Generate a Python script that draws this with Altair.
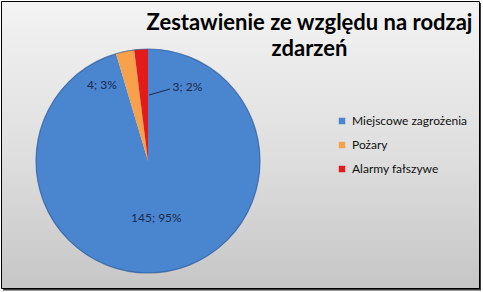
import altair as alt
import pandas as pd

categories = ["Miejscowe zagrożenia", "Pożary", "Alarmy fałszywe"]
values = [145, 4, 3]
colors = ["#4A85D0", "#F7A24A", "#E41B1B"]
title_lines = ["Zestawienie ze względu na rodzaj", "zdarzeń"]

df = pd.DataFrame({
    "kategoria": categories,
    "wartosc": values,
    "kolejnosc": list(range(len(categories))),
})

W, H = 483, 292
CX, CY, R = 148, 161, 112
FONT = "Lato"
LABEL_COLOR = "#1B2A4C"

deco = alt.Data(values=[{"d": 1}])

shadow = alt.Chart(deco).mark_rect(fill="#3a3a3a").encode(
    x=alt.value(3), x2=alt.value(481), y=alt.value(3), y2=alt.value(290.5)
)

background = alt.Chart(deco).mark_rect(
    fill=alt.Gradient(
        gradient="linear",
        stops=[alt.GradientStop(color="#f3f3f3", offset=0),
               alt.GradientStop(color="#dedede", offset=0.55),
               alt.GradientStop(color="#c6c6c6", offset=1)],
        x1=0, x2=0, y1=0, y2=1,
    ),
    stroke="black", strokeWidth=1,
).encode(x=alt.value(1.5), x2=alt.value(479.5), y=alt.value(1.5), y2=alt.value(288.5))

base = alt.Chart(df).transform_joinaggregate(
    total="sum(wartosc)"
).transform_calculate(
    etykieta="datum.wartosc + '; ' + round(datum.wartosc / datum.total * 100) + '%'"
)

theta = alt.Theta("wartosc:Q", stack=True)
order = alt.Order("kolejnosc:Q")

pie = base.mark_arc(radius=R).encode(
    theta=theta,
    order=order,
    x=alt.value(CX),
    y=alt.value(CY),
    color=alt.Color(
        "kategoria:N",
        scale=alt.Scale(domain=categories, range=colors),
        legend=alt.Legend(
            title=None,
            orient="none",
            legendX=336,
            legendY=115,
            symbolType="square",
            symbolSize=42,
            symbolStrokeWidth=0,
            labelFont=FONT,
            labelFontSize=12,
            labelColor="#111111",
            labelOffset=4,
            rowPadding=12,
            padding=0,
        ),
    ),
)

rim = alt.Chart(deco).mark_point(
    shape="circle", filled=False, stroke="#2F5C9A", strokeWidth=1.2, opacity=0.7,
    size=(2 * R) ** 2,
).encode(x=alt.value(CX), y=alt.value(CY))


def label_layer(cat, radius, dx):
    return base.mark_text(
        radius=radius, dx=dx, font=FONT, fontSize=12, color=LABEL_COLOR
    ).encode(
        theta=theta,
        order=order,
        x=alt.value(CX),
        y=alt.value(CY),
        text=alt.condition(alt.datum.kategoria == cat, "etykieta:N", alt.value("")),
    )


lab_main = label_layer(categories[0], 58, 0)
lab_poz = label_layer(categories[1], 78, -30)
lab_alarm = label_layer(categories[2], 74, 44)

leader = alt.Chart(deco).mark_rule(color=LABEL_COLOR, strokeWidth=1).encode(
    x=alt.value(149), y=alt.value(95), x2=alt.value(170), y2=alt.value(89)
)

chart = alt.layer(
    shadow, background, pie, rim, lab_main, lab_poz, lab_alarm, leader
).properties(
    width=W,
    height=H,
    padding=0,
    autosize=alt.AutoSizeParams(type="none"),
    background="white",
    title=alt.TitleParams(
        text=title_lines,
        font=FONT,
        fontSize=22,
        fontWeight="bold",
        color="black",
        anchor="middle",
        dx=68,
        offset=-61,
        lineHeight=26,
    ),
).configure_view(stroke=None)

chart.save("out.html", embed_options={"renderer": "svg", "actions": False})
